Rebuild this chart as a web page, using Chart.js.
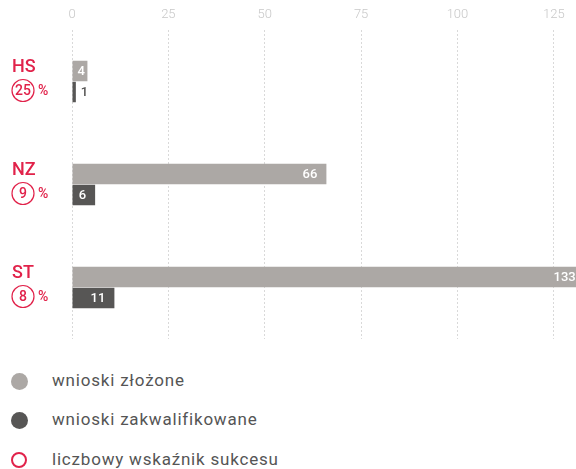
<!DOCTYPE html>
<html>
<head>
<meta charset="utf-8">
<script src="https://cdn.jsdelivr.net/npm/chart.js@4"></script>
<style>
  html, body { margin: 0; padding: 0; background: #fff; overflow: hidden; }
  #wrap { position: relative; width: 576px; height: 469px; overflow: hidden; }
  #chartBox { position: absolute; left: 0; top: 0; width: 668px; height: 340px; }
  .legend { position: absolute; left: 0; font-family: Roboto, sans-serif; font-size: 17px; color: #555; letter-spacing: 0.8px; }
  .legend .dot { position: absolute; left: 11px; width: 17px; height: 17px; border-radius: 50%; }
  .legend span.txt { position: absolute; left: 52px; white-space: nowrap; }
</style>
</head>
<body>
<div id="wrap">
  <div id="chartBox"><canvas id="myChart"></canvas></div>
  <div id="legend"></div>
</div>
<script>
    var categories = ['HS', 'NZ', 'ST'];
    var submitted = [4, 66, 133];
    var qualified = [1, 6, 11];
    var successRate = [25, 9, 8];
    var xTicks = [0, 25, 50, 75, 100, 125, 150];

    var legendItems = ['wnioski złożone', 'wnioski zakwalifikowane', 'liczbowy wskaźnik sukcesu'];

    var RED = '#e1224a';
    var LIGHT = '#aca8a5';
    var DARK = '#575655';

    // value labels at the end of each bar
    var barLabels = {
        id: 'barLabels',
        afterDatasetsDraw: function (chart) {
            var ctx = chart.ctx;
            ctx.save();
            ctx.font = '500 13px Roboto';
            ctx.textBaseline = 'middle';
            ctx.textAlign = 'left';
            chart.data.datasets.forEach(function (ds, i) {
                chart.getDatasetMeta(i).data.forEach(function (bar, j) {
                    var text = String(ds.data[j]);
                    var w = ctx.measureText(text).width;
                    var start = bar.base, end = bar.x;
                    if (end - start > w + 5) {
                        var x = Math.max(start + 5, end - 9 - w);
                        ctx.fillStyle = '#fff';
                        ctx.fillText(text, x, bar.y + 1);
                    } else {
                        ctx.fillStyle = DARK;
                        ctx.fillText(text, end + 5, bar.y + 1);
                    }
                });
            });
            ctx.restore();
        }
    };

    // category names with the success rate in a ring
    var categoryLabels = {
        id: 'categoryLabels',
        afterDraw: function (chart) {
            var ctx = chart.ctx;
            var y = chart.scales.y;
            ctx.save();
            categories.forEach(function (name, i) {
                var cy = y.getPixelForValue(i);
                ctx.fillStyle = RED;
                ctx.textBaseline = 'middle';
                ctx.textAlign = 'left';
                ctx.font = '500 18px Roboto';
                ctx.fillText(name, 12, cy - 14);

                ctx.strokeStyle = RED;
                ctx.lineWidth = 1.2;
                ctx.beginPath();
                ctx.arc(23, cy + 9, 11, 0, Math.PI * 2);
                ctx.stroke();

                ctx.textAlign = 'center';
                ctx.font = '500 14px Roboto';
                ctx.fillText(String(successRate[i]), 23, cy + 10);
                ctx.textAlign = 'left';
                ctx.fillText('%', 38, cy + 10);
            });
            ctx.restore();
        }
    };

    var ctx = document.getElementById('myChart').getContext('2d');
    var myChart = new Chart(ctx, {
        type: 'bar',
        data: {
            labels: categories,
            datasets: [
                {
                    label: legendItems[0],
                    data: submitted,
                    backgroundColor: LIGHT,
                    categoryPercentage: 0.41,
                    barPercentage: 0.97
                },
                {
                    label: legendItems[1],
                    data: qualified,
                    backgroundColor: DARK,
                    categoryPercentage: 0.41,
                    barPercentage: 0.97
                }
            ]
        },
        options: {
            indexAxis: 'y',
            responsive: true,
            maintainAspectRatio: false,
            animation: false,
            layout: { padding: { top: 0, right: 2, bottom: 1, left: 0 } },
            plugins: {
                legend: { display: false },
                tooltip: { enabled: false }
            },
            scales: {
                x: {
                    position: 'top',
                    min: 0,
                    max: 150,
                    afterBuildTicks: function (scale) {
                        scale.ticks = xTicks.map(function (v) { return { value: v }; });
                    },
                    afterFit: function (scale) { scale.height = 30; },
                    border: { display: false, dash: [2, 2] },
                    grid: {
                        color: '#d9d9d9',
                        drawTicks: false
                    },
                    ticks: {
                        padding: 7,
                        color: '#c8c8c8',
                        font: { family: 'Roboto', size: 13, weight: 300 }
                    }
                },
                y: {
                    afterFit: function (scale) { scale.width = 72; },
                    border: { display: false },
                    grid: { display: false },
                    ticks: { display: false }
                }
            }
        },
        plugins: [barLabels, categoryLabels]
    });

    // legend below the chart
    var legendTops = [382, 421, 461];
    var legendEl = document.getElementById('legend');
    legendItems.forEach(function (txt, i) {
        var row = document.createElement('div');
        row.className = 'legend';
        row.style.top = (legendTops[i] - 12) + 'px';
        var dot = document.createElement('div');
        dot.className = 'dot';
        dot.style.top = '3px';
        if (i === 0) dot.style.background = LIGHT;
        if (i === 1) dot.style.background = DARK;
        if (i === 2) {
            dot.style.border = '2.5px solid ' + RED;
            dot.style.width = '12px';
            dot.style.height = '12px';
        }
        var label = document.createElement('span');
        label.className = 'txt';
        label.textContent = txt;
        row.appendChild(dot);
        row.appendChild(label);
        legendEl.appendChild(row);
    });
</script>
</body>
</html>
